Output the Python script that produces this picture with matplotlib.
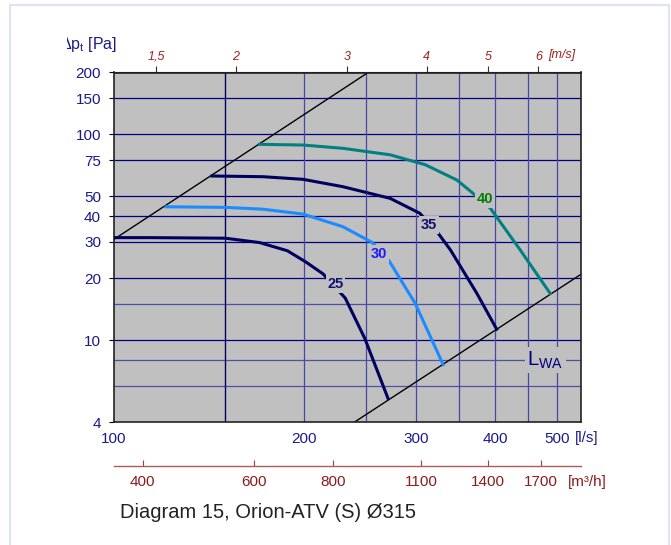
import matplotlib
matplotlib.use('Agg')
import matplotlib.pyplot as plt
import numpy as np
from matplotlib.patches import Rectangle
from matplotlib.ticker import NullLocator
from matplotlib.transforms import Bbox, TransformedBbox

plt.rcParams['font.family'] = ['Liberation Sans', 'DejaVu Sans']

# fan curves : flow [l/s] -> total pressure [Pa], one per sound level
q25 = [100, 114, 150, 170, 188, 201, 214, 232, 249, 271]
p25 = [31.5, 31.5, 31.3, 29.8, 27.2, 24.0, 21.0, 16.0, 10.2, 5.2]
q30 = [121, 150, 172, 199, 230, 256, 272, 299, 331]
p30 = [44.5, 44.2, 43.3, 41.0, 35.6, 29.8, 24.3, 15.1, 7.6]
q35 = [143, 172, 199, 230, 273, 304, 325, 340, 374, 402]
p35 = [62.8, 62.3, 60.5, 55.7, 48.9, 41.4, 33.1, 27.4, 16.9, 11.3]
q40 = [170, 199, 230, 273, 310, 348, 369, 393, 438, 488]
p40 = [89.5, 88.8, 85.6, 79.6, 71.3, 60.0, 51.7, 43.7, 27.4, 16.9]

# system lines (limits of the working area)
sys_hi_q = [100, 252]
sys_hi_p = [30.8, 200]
sys_lo_q = [240, 546]
sys_lo_p = [4.0, 20.9]

# curve labels
lbl_txt = ['25', '30', '35', '40']
lbl_q = [224, 262, 314, 386]
lbl_p = [18.7, 26.2, 36.3, 48.5]

# axes
y_ticks = [4, 10, 20, 30, 40, 50, 75, 100, 150, 200]
x_ticks = [100, 200, 300, 400, 500]
v_ticks = [1.5, 2, 3, 4, 5, 6]
v_labels = ['1,5', '2', '3', '4', '5', '6']
m3h_ticks = [400, 600, 800, 1100, 1400, 1700]
hgrid_major = [10, 20, 30, 40, 50, 75, 100, 150]
hgrid_minor = [6, 8, 15]
vgrid_major = [150]
vgrid_minor = [200, 250, 300, 350, 400, 450, 500]

diam = 0.315  # m
area = np.pi * diam**2 / 4

W, H = 671, 545
navy = '#1a1a8c'
red = '#8b1c1c'

fig = plt.figure(figsize=(W / 100, H / 100), dpi=100)
ax = fig.add_axes([113.5 / W, 123 / H, 467.5 / W, 349.5 / H])
ax.set_facecolor('#c0c0c0')
ax.set_xscale('log')
ax.set_yscale('log')
ax.set_xlim(100, 546)
ax.set_ylim(4, 200)

for g in hgrid_major:
    ax.axhline(g, color='#000080', lw=0.9, zorder=1)
for g in hgrid_minor:
    ax.axhline(g, color='#5050a8', lw=0.9, zorder=1)
for g in vgrid_major:
    ax.axvline(g, color='#000060', lw=1.0, zorder=1)
for g in vgrid_minor:
    ax.axvline(g, color='#4848a4', lw=0.9, zorder=1)

ax.plot(sys_hi_q, sys_hi_p, color='black', lw=1, zorder=2)
ax.plot(sys_lo_q, sys_lo_p, color='black', lw=1, zorder=2)

ax.plot(q25, p25, color='#000060', lw=2.2, zorder=3)
ax.plot(q30, p30, color='#1a8cff', lw=2.2, zorder=3)
ax.plot(q35, p35, color='#000060', lw=2.2, zorder=3)
ax.plot(q40, p40, color='#008080', lw=2.2, zorder=3)

lbl_col = ['#101070', '#1a1aff', '#101070', '#008000']
box = dict(boxstyle='square,pad=0.12', fc='#c0c0c0', ec='none')
for t, q, p, c in zip(lbl_txt, lbl_q, lbl_p, lbl_col):
    ax.text(q, p, t, color=c, fontsize=10.5, fontweight='bold',
            ha='center', va='center', bbox=box, zorder=4)
ax.text(480, 8.0, r'L$_\mathregular{WA}$', color='#000080', fontsize=14.5,
        ha='center', va='center', bbox=box, zorder=4)

ax.set_yticks(y_ticks, labels=[str(v) for v in y_ticks])
ax.yaxis.set_minor_locator(NullLocator())
ax.set_xticks(x_ticks, labels=[str(v) for v in x_ticks])
ax.xaxis.set_minor_locator(NullLocator())
ax.tick_params(axis='y', length=3.5, pad=5.5, color='black', labelcolor=navy, labelsize=11)
ax.tick_params(axis='x', length=0, pad=7, labelcolor=navy, labelsize=11)
for s in ax.spines.values():
    s.set_color('#222222')
    s.set_linewidth(1.2)

# velocity in the duct
top = ax.secondary_xaxis('top', functions=(lambda q: q / 1000 / area,
                                           lambda v: v * 1000 * area))
top.set_xticks(v_ticks, labels=v_labels, fontstyle='italic')
top.xaxis.set_minor_locator(NullLocator())
top.tick_params(length=4, pad=3, color='#333333', labelcolor='#a02020', labelsize=9)
for s in top.spines.values():
    s.set_color('#222222')

# flow in m3/h
bot = ax.secondary_xaxis(-0.1247, functions=(lambda q: q * 3.6, lambda m: m / 3.6))
bot.set_xticks(m3h_ticks, labels=[str(v) for v in m3h_ticks])
bot.xaxis.set_minor_locator(NullLocator())
bot.tick_params(direction='in', length=4.5, pad=6.5, color='#a04040', labelcolor=red, labelsize=11)
for s in bot.spines.values():
    s.set_color('#b05a5a')
    s.set_linewidth(1)

fig.text(548 / W, 1 - 55 / H, '[m/s]', color='#a02020', fontsize=9,
         fontstyle='italic', va='center')
fig.text(575 / W, 1 - 438 / H, '[l/s]', color=navy, fontsize=11, va='center')
fig.text(568 / W, 1 - 482 / H, '[m³/h]', color=red, fontsize=11, va='center')

yl = fig.text(117 / W, 1 - 44 / H, r'Δp$_\mathregular{t}$ [Pa]', color=navy,
              fontsize=11.5, ha='right', va='center')
yl.set_clip_box(TransformedBbox(Bbox([[67 / W, 0], [1, 1]]), fig.transFigure))
yl.set_clip_on(True)

fig.text(120 / W, 1 - 512 / H, 'Diagram 15, Orion-ATV (S) Ø315', color='#222222',
         fontsize=14.5, va='center')

fig.patches.append(Rectangle((10 / W, -0.05), 659 / W, 1.05 - 5 / H,
                             transform=fig.transFigure, fill=False,
                             ec='#dde3f5', lw=1.5))

fig.savefig('out.png', dpi=100)
